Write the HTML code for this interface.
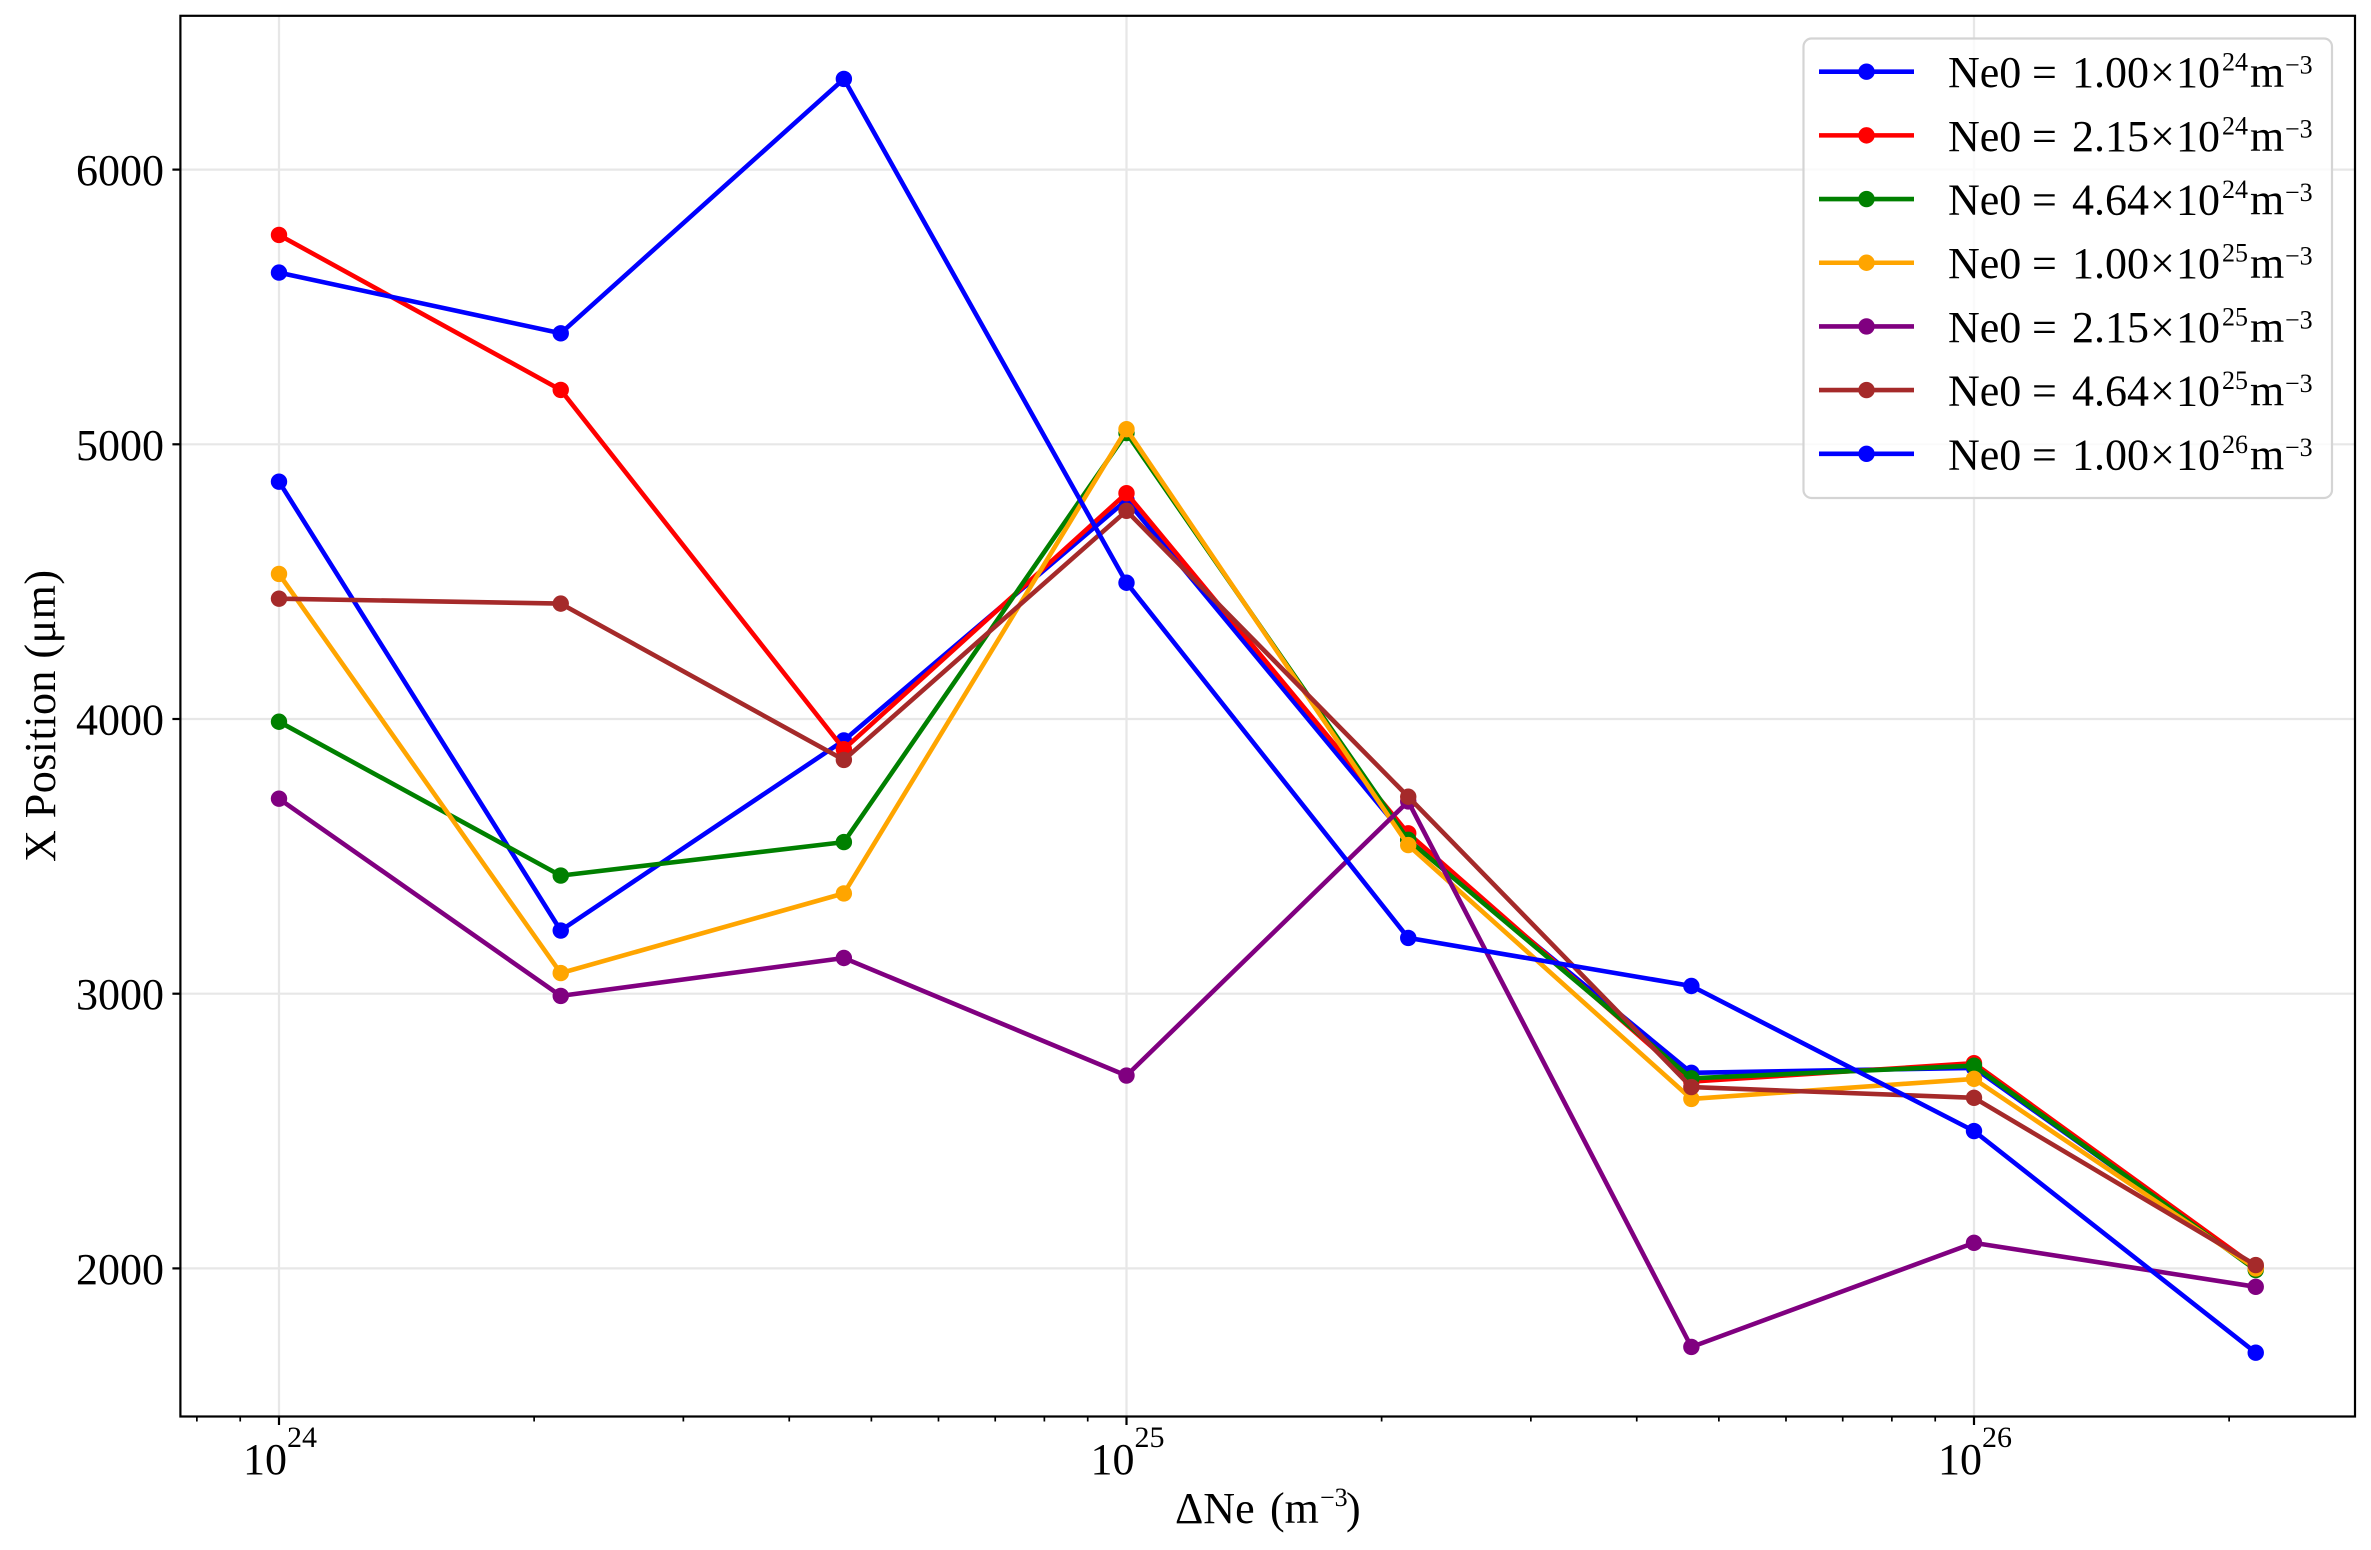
<!DOCTYPE html>
<html lang="en">
<head>
<meta charset="utf-8">
<title>X Position vs ΔNe</title>
<style>
html,body{margin:0;padding:0;background:#fff;width:2371px;height:1550px;overflow:hidden}
svg{display:block}
text{font-family:"Liberation Serif","Times New Roman",serif;fill:#000}
</style>
</head>
<body>
<svg id="chart" xmlns="http://www.w3.org/2000/svg" width="2371" height="1550" viewBox="0 0 2371 1550">
  <rect x="0" y="0" width="2371" height="1550" fill="#fff"/>
  <g id="grid-layer"></g>
  <g id="series-layer"></g>
  <g id="axes-layer"></g>
  <g id="legend-layer"></g>
  <text y="1523" font-size="44"><tspan x="1175">ΔNe</tspan><tspan x="1270">(m</tspan><tspan x="1320" y="1506" font-size="26">−3</tspan><tspan x="1346" y="1523">)</tspan></text>
  <text transform="translate(55,716) rotate(-90)" text-anchor="middle" font-size="44" textLength="292" lengthAdjust="spacing">X Position (μm)</text>
</svg>
<script>
const deltaNe = [1e24, 2.15e24, 4.64e24, 1e25, 2.15e25, 4.64e25, 1e26, 2.15e26];
const seriesA = [4864, 3230, 3922, 4797, 3560, 2712, 2730, 2000];
const seriesB = [5762, 5198, 3890, 4822, 3584, 2680, 2747, 2005];
const seriesC = [3990, 3430, 3552, 5041, 3560, 2692, 2738, 1994];
const seriesD = [4528, 3075, 3365, 5055, 3541, 2617, 2690, 2000];
const seriesE = [3710, 2992, 3130, 2702, 3700, 1714, 2093, 1933];
const seriesF = [4438, 4420, 3851, 4758, 3717, 2660, 2621, 2012];
const seriesG = [5625, 5404, 6330, 4496, 3203, 3028, 2500, 1693];
const seriesColors = ["#0000ff", "#ff0000", "#008000", "#ffa500", "#800080", "#a52a2a", "#0000ff"];
const legendMantissa = ["1.00", "2.15", "4.64", "1.00", "2.15", "4.64", "1.00"];
const legendExponent = ["24", "24", "24", "25", "25", "25", "26"];
const yTickValues = [2000, 3000, 4000, 5000, 6000];
const xMajorExponents = [24, 25, 26];
const xMinorValues = [8e23, 9e23, 2e24, 3e24, 4e24, 5e24, 6e24, 7e24, 8e24, 9e24, 2e25, 3e25, 4e25, 5e25, 6e25, 7e25, 8e25, 9e25, 2e26];

const NS = "http://www.w3.org/2000/svg";
const plotLeft = 180.4, plotRight = 2355, plotTop = 15.8, plotBottom = 1416.5;
function xScale(v) { return 279 + (Math.log10(v) - 24) * 847.5; }
function yScale(v) { return 169.6 + (6000 - v) * 0.2747; }
function make(tag, attrs, parent) {
  const el = document.createElementNS(NS, tag);
  for (const k in attrs) el.setAttribute(k, attrs[k]);
  parent.appendChild(el);
  return el;
}
const gridLayer = document.getElementById("grid-layer");
const axesLayer = document.getElementById("axes-layer");
const seriesLayer = document.getElementById("series-layer");
const legendLayer = document.getElementById("legend-layer");

xMajorExponents.forEach(function (e) {
  const x = xScale(Math.pow(10, e));
  const gl = make("line", {x1: x, x2: x, y1: plotTop, y2: plotBottom, stroke: "#e7e7e7", "stroke-width": 2.2}, gridLayer);
  
  
  const t = make("line", {x1: x, x2: x, y1: plotBottom, y2: plotBottom + 8.5, stroke: "#000", "stroke-width": 2.2}, axesLayer);
  
  
  const base = make("text", {x: x - 36, y: 1474, "font-size": 44}, axesLayer);
  base.textContent = "10";
  
  
  const sup = make("text", {x: x + 8, y: 1447, "font-size": 30}, axesLayer);
  sup.textContent = String(e);
  
  
});
xMinorValues.forEach(function (v) {
  const x = xScale(v);
  const t = make("line", {x1: x, x2: x, y1: plotBottom, y2: plotBottom + 5, stroke: "#000", "stroke-width": 1.7}, axesLayer);
  
  
});
yTickValues.forEach(function (v) {
  const y = yScale(v);
  const gl = make("line", {x1: plotLeft, x2: plotRight, y1: y, y2: y, stroke: "#e7e7e7", "stroke-width": 2.2}, gridLayer);
  
  
  const t = make("line", {x1: plotLeft - 8, x2: plotLeft, y1: y, y2: y, stroke: "#000", "stroke-width": 2.2}, axesLayer);
  
  
  const lab = make("text", {x: 164, y: y + 15.5, "font-size": 44, "text-anchor": "end"}, axesLayer);
  lab.textContent = String(v);
  
  
});
const frame = make("rect", {x: plotLeft, y: plotTop, width: plotRight - plotLeft, height: plotBottom - plotTop, fill: "none", stroke: "#000", "stroke-width": 2.2}, axesLayer);



[seriesA, seriesB, seriesC, seriesD, seriesE, seriesF, seriesG].forEach(function (vals, i) {
  const g = make("g", {}, seriesLayer);
  
  
  const pts = vals.map(function (v, j) { return xScale(deltaNe[j]).toFixed(1) + "," + yScale(v).toFixed(1); }).join(" ");
  const line = make("polyline", {points: pts, fill: "none", stroke: seriesColors[i], "stroke-width": 4.6, "stroke-linejoin": "round"}, g);
  
  
  vals.forEach(function (v, j) {
    const c = make("circle", {cx: xScale(deltaNe[j]), cy: yScale(v), r: 8.2, fill: seriesColors[i]}, g);
    
    
  });
});

const legendBox = make("rect", {x: 1803.5, y: 38.5, width: 528.5, height: 459.5, rx: 8, ry: 8, fill: "#fff", "fill-opacity": 0.8, stroke: "#d4d4d4", "stroke-width": 2.2}, legendLayer);


legendMantissa.forEach(function (m, i) {
  const rowY = 71.7 + i * 63.68;
  const row = make("g", {}, legendLayer);
  
  
  const h = make("line", {x1: 1819, x2: 1914, y1: rowY, y2: rowY, stroke: seriesColors[i], "stroke-width": 4.6}, row);
  
  
  const mk = make("circle", {cx: 1866.5, cy: rowY, r: 8.2, fill: seriesColors[i]}, row);
  
  
  const base = rowY + 15.5;
  const label = make("text", {y: base, "font-size": 44}, row);
  
  
  function part(txt, x, y, size) {
    const t = document.createElementNS(NS, "tspan");
    t.setAttribute("x", x);
    t.setAttribute("y", y);
    t.setAttribute("font-size", size);
    t.textContent = txt;
    label.appendChild(t);
  }
  part("Ne0", 1948, base, 44);
  part("=", 2032, base, 44);
  part(m, 2072, base, 44);
  part("×", 2150, base, 44);
  part("10", 2176, base, 44);
  part(legendExponent[i], 2222, base - 16.5, 26);
  part("m", 2250, base, 44);
  part("−3", 2285, base - 13.5, 26);
});
</script>
</body>
</html>
